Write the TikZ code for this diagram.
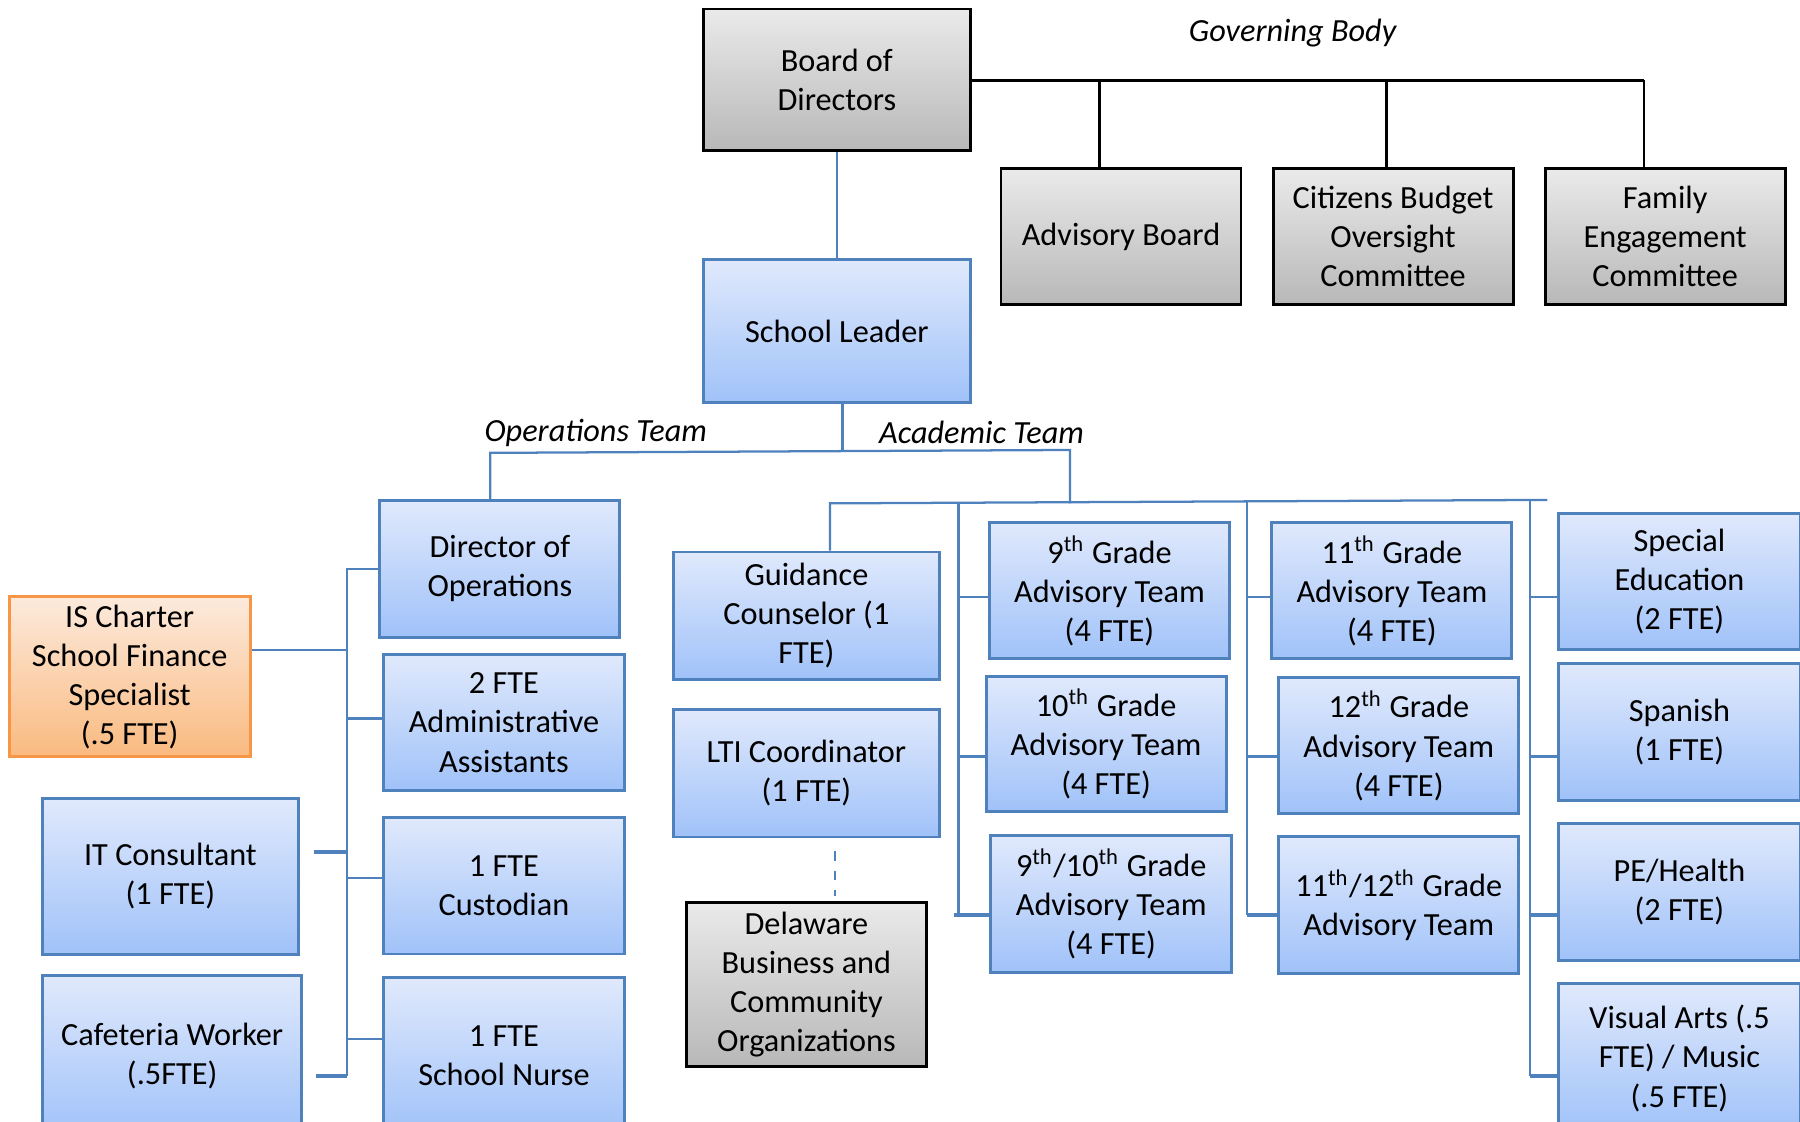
\documentclass[tikz,border=0pt]{standalone}
\usepackage{fontspec}
\setmainfont{Carlito}
\usepackage{tikz}

\definecolor{lineblue}{RGB}{79,129,189}
\definecolor{bluetop}{RGB}{224,233,252}
\definecolor{bluebot}{RGB}{160,194,249}
\definecolor{greytop}{RGB}{234,234,234}
\definecolor{greybot}{RGB}{184,184,184}
\definecolor{orangetop}{RGB}{252,234,220}
\definecolor{orangebot}{RGB}{250,186,128}
\definecolor{orangeline}{RGB}{247,150,70}

\tikzset{
  staffbox/.style={draw=lineblue, line width=0.9pt, top color=bluetop, bottom color=bluebot,
    align=center, inner sep=2pt, minimum width=2.6125cm, minimum height=1.4875cm,
    font=\fontsize{10}{12.1}\selectfont},
  govbox/.style={staffbox, draw=black, top color=greytop, bottom color=greybot},
  financebox/.style={staffbox, draw=orangeline, top color=orangetop, bottom color=orangebot},
  orgline/.style={draw=lineblue, line width=0.7pt},
  govline/.style={draw=black, line width=0.8pt},
  teamlabel/.style={font=\fontsize{10}{12.1}\selectfont\itshape}
}

\begin{document}
\begin{tikzpicture}[x=0.0125cm, y=-0.0125cm]
    \useasboundingbox (0,0) rectangle (1568,977);

    % governing body
    \node[govbox, minimum width=2.9cm, minimum height=1.54cm] (board) at (729,69.5) {Board of\\Directors};
    \node[govbox, minimum height=1.475cm] (advisory) at (976.5,206) {Advisory Board};
    \node[govbox, minimum height=1.475cm] (budget) at (1213.5,206) {Citizens Budget\\Oversight\\Committee};
    \node[govbox, minimum height=1.475cm] (family) at (1450.5,206) {Family\\Engagement\\Committee};
    \node[teamlabel] (govlabel) at (1126,29) {Governing Body};

    \coordinate (govA) at (958,70);
    \coordinate (govB) at (1208,70);
    \coordinate (govC) at (1432,70);
    \draw[govline] (board.east |- govC) -- (govC);
    \draw[govline] (govA) -- (govA |- advisory.north);
    \draw[govline] (govB) -- (govB |- budget.north);
    \draw[govline] (govC) -- (govC |- family.north);

    % school leader and the two teams
    \node[staffbox, minimum width=2.9cm, minimum height=1.5625cm] (leader) at (729,288.5) {School Leader};
    \draw[orgline] (board) -- (leader);

    \node[teamlabel] (opslabel) at (519,377) {Operations Team};
    \node[teamlabel] (aclabel) at (855,377) {Academic Team};

    % operations team
    \node[staffbox] (dirops) at (435.5,495.5) {Director of\\Operations};
    \node[staffbox, minimum width=2.625cm] (admin) at (439,629.5) {2 FTE\\Administrative\\Assistants};
    \node[staffbox, minimum width=2.625cm] (custodian) at (439,771.5) {1 FTE\\Custodian};
    \node[staffbox, minimum width=2.625cm, minimum height=1.69cm] (nurse) at (439,919.5) {1 FTE\\School Nurse};
    \node[financebox, minimum width=2.625cm, minimum height=1.7375cm] (finance) at (113,589.5) {IS Charter\\School Finance\\Specialist\\(.5 FTE)};
    \node[staffbox, minimum width=2.79cm, minimum height=1.69cm] (it) at (148.5,763.5) {IT Consultant\\(1 FTE)};
    \node[staffbox, minimum width=2.825cm, minimum height=1.75cm] (cafeteria) at (150,920) {Cafeteria Worker\\(.5FTE)};

    % academic team
    \node[staffbox, minimum width=2.89cm, minimum height=1.39cm] (guidance) at (702.5,536.5) {Guidance\\Counselor (1\\FTE)};
    \node[staffbox, minimum width=2.89cm, minimum height=1.39cm] (lti) at (702.5,673.5) {LTI Coordinator\\(1 FTE)};
    \node[govbox, minimum height=1.79cm] (delaware) at (702.5,857.5) {Delaware\\Business and\\Community\\Organizations};

    \node[staffbox] (g9) at (966.5,514.5) {9\textsuperscript{th} Grade\\Advisory Team\\(4 FTE)};
    \node[staffbox, minimum height=1.475cm] (g10) at (963.5,648) {10\textsuperscript{th} Grade\\Advisory Team\\(4 FTE)};
    \node[staffbox, minimum width=2.625cm] (g910) at (968,787.5) {9\textsuperscript{th}/10\textsuperscript{th} Grade\\Advisory Team\\(4 FTE)};
    \node[staffbox] (g11) at (1212.5,514.5) {11\textsuperscript{th} Grade\\Advisory Team\\(4 FTE)};
    \node[staffbox] (g12) at (1218.5,649.5) {12\textsuperscript{th} Grade\\Advisory Team\\(4 FTE)};
    \node[staffbox] (g1112) at (1218.5,788.5) {11\textsuperscript{th}/12\textsuperscript{th} Grade\\Advisory Team};

    \node[staffbox, minimum width=2.625cm] (sped) at (1463,506.5) {Special\\Education\\(2 FTE)};
    \node[staffbox, minimum width=2.625cm] (spanish) at (1463,637.5) {Spanish\\(1 FTE)};
    \node[staffbox, minimum width=2.625cm, minimum height=1.5cm] (pe) at (1463,777) {PE/Health\\(2 FTE)};
    \node[staffbox, minimum width=2.625cm, minimum height=1.625cm] (arts) at (1463,922) {Visual Arts (.5\\FTE) / Music\\(.5 FTE)};

    % leader down to the teams
    \coordinate (split) at (734,393);
    \coordinate (opsdrop) at (427,394.5);
    \coordinate (acdrop) at (932,392);
    \coordinate (acleft) at (723,438.5);
    \coordinate (acright) at (1348,435.5);
    \draw[orgline] (leader.south -| split) -- (split);
    \draw[orgline] (dirops.north -| opsdrop) -- (opsdrop) -- (acdrop) -- (acdrop |- acleft);
    \draw[orgline] (guidance.north -| acleft) -- (acleft) -- (acright);

    % operations bus
    \coordinate (opsbus) at (302,937);
    \coordinate (opsrowA) at (0,626);
    \coordinate (opsrowB) at (0,765);
    \coordinate (opsrowC) at (0,905);
    \draw[orgline] (dirops.west) -- (dirops.west -| opsbus) -- (opsbus);
    \draw[orgline] (opsbus |- opsrowA) -- (admin.west |- opsrowA);
    \draw[orgline] (opsbus |- opsrowB) -- (custodian.west |- opsrowB);
    \draw[orgline] (opsbus |- opsrowC) -- (nurse.west |- opsrowC);
    \draw[orgline] ([yshift=0.29cm]finance.east) -- ([yshift=0.29cm]finance.east -| opsbus);
    \draw[orgline, line width=1.3pt] ([xshift=0.15cm, yshift=0.27cm]it.east) -- ([yshift=0.27cm]it.east -| opsbus);
    \draw[orgline, line width=1.3pt] ([xshift=0.14cm]cafeteria.east |- opsbus) -- (opsbus);

    % academic buses
    \coordinate (rowA) at (0,520);
    \coordinate (rowB) at (0,659);
    \coordinate (rowC) at (0,797);
    \coordinate (rowD) at (0,937);
    \coordinate (busA) at (835,438);
    \coordinate (busB) at (1086,437);
    \coordinate (busC) at (1333,436);
    \draw[orgline] (busA) -- (busA |- rowC);
    \draw[orgline] (busA |- rowA) -- (g9.west |- rowA);
    \draw[orgline] (busA |- rowB) -- (g10.west |- rowB);
    \draw[orgline, line width=1.3pt] ([xshift=-0.05cm]busA |- rowC) -- (g910.west |- rowC);
    \draw[orgline] (busB) -- (busB |- rowC);
    \draw[orgline] (busB |- rowA) -- (g11.west |- rowA);
    \draw[orgline] (busB |- rowB) -- (g12.west |- rowB);
    \draw[orgline, line width=1.3pt] (busB |- rowC) -- (g1112.west |- rowC);
    \draw[orgline] (busC) -- (busC |- rowD);
    \draw[orgline] (busC |- rowA) -- (sped.west |- rowA);
    \draw[orgline] (busC |- rowB) -- (spanish.west |- rowB);
    \draw[orgline, line width=1.3pt] (busC |- rowC) -- (pe.west |- rowC);
    \draw[orgline, line width=1.3pt] (busC |- rowD) -- (arts.west |- rowD);

    % outside partners
    \draw[orgline, dashed, shorten <=0.14cm, shorten >=0.05cm] ([xshift=0.31cm]lti.south) -- ([xshift=0.31cm]lti.south |- delaware.north);
\end{tikzpicture}
\end{document}
